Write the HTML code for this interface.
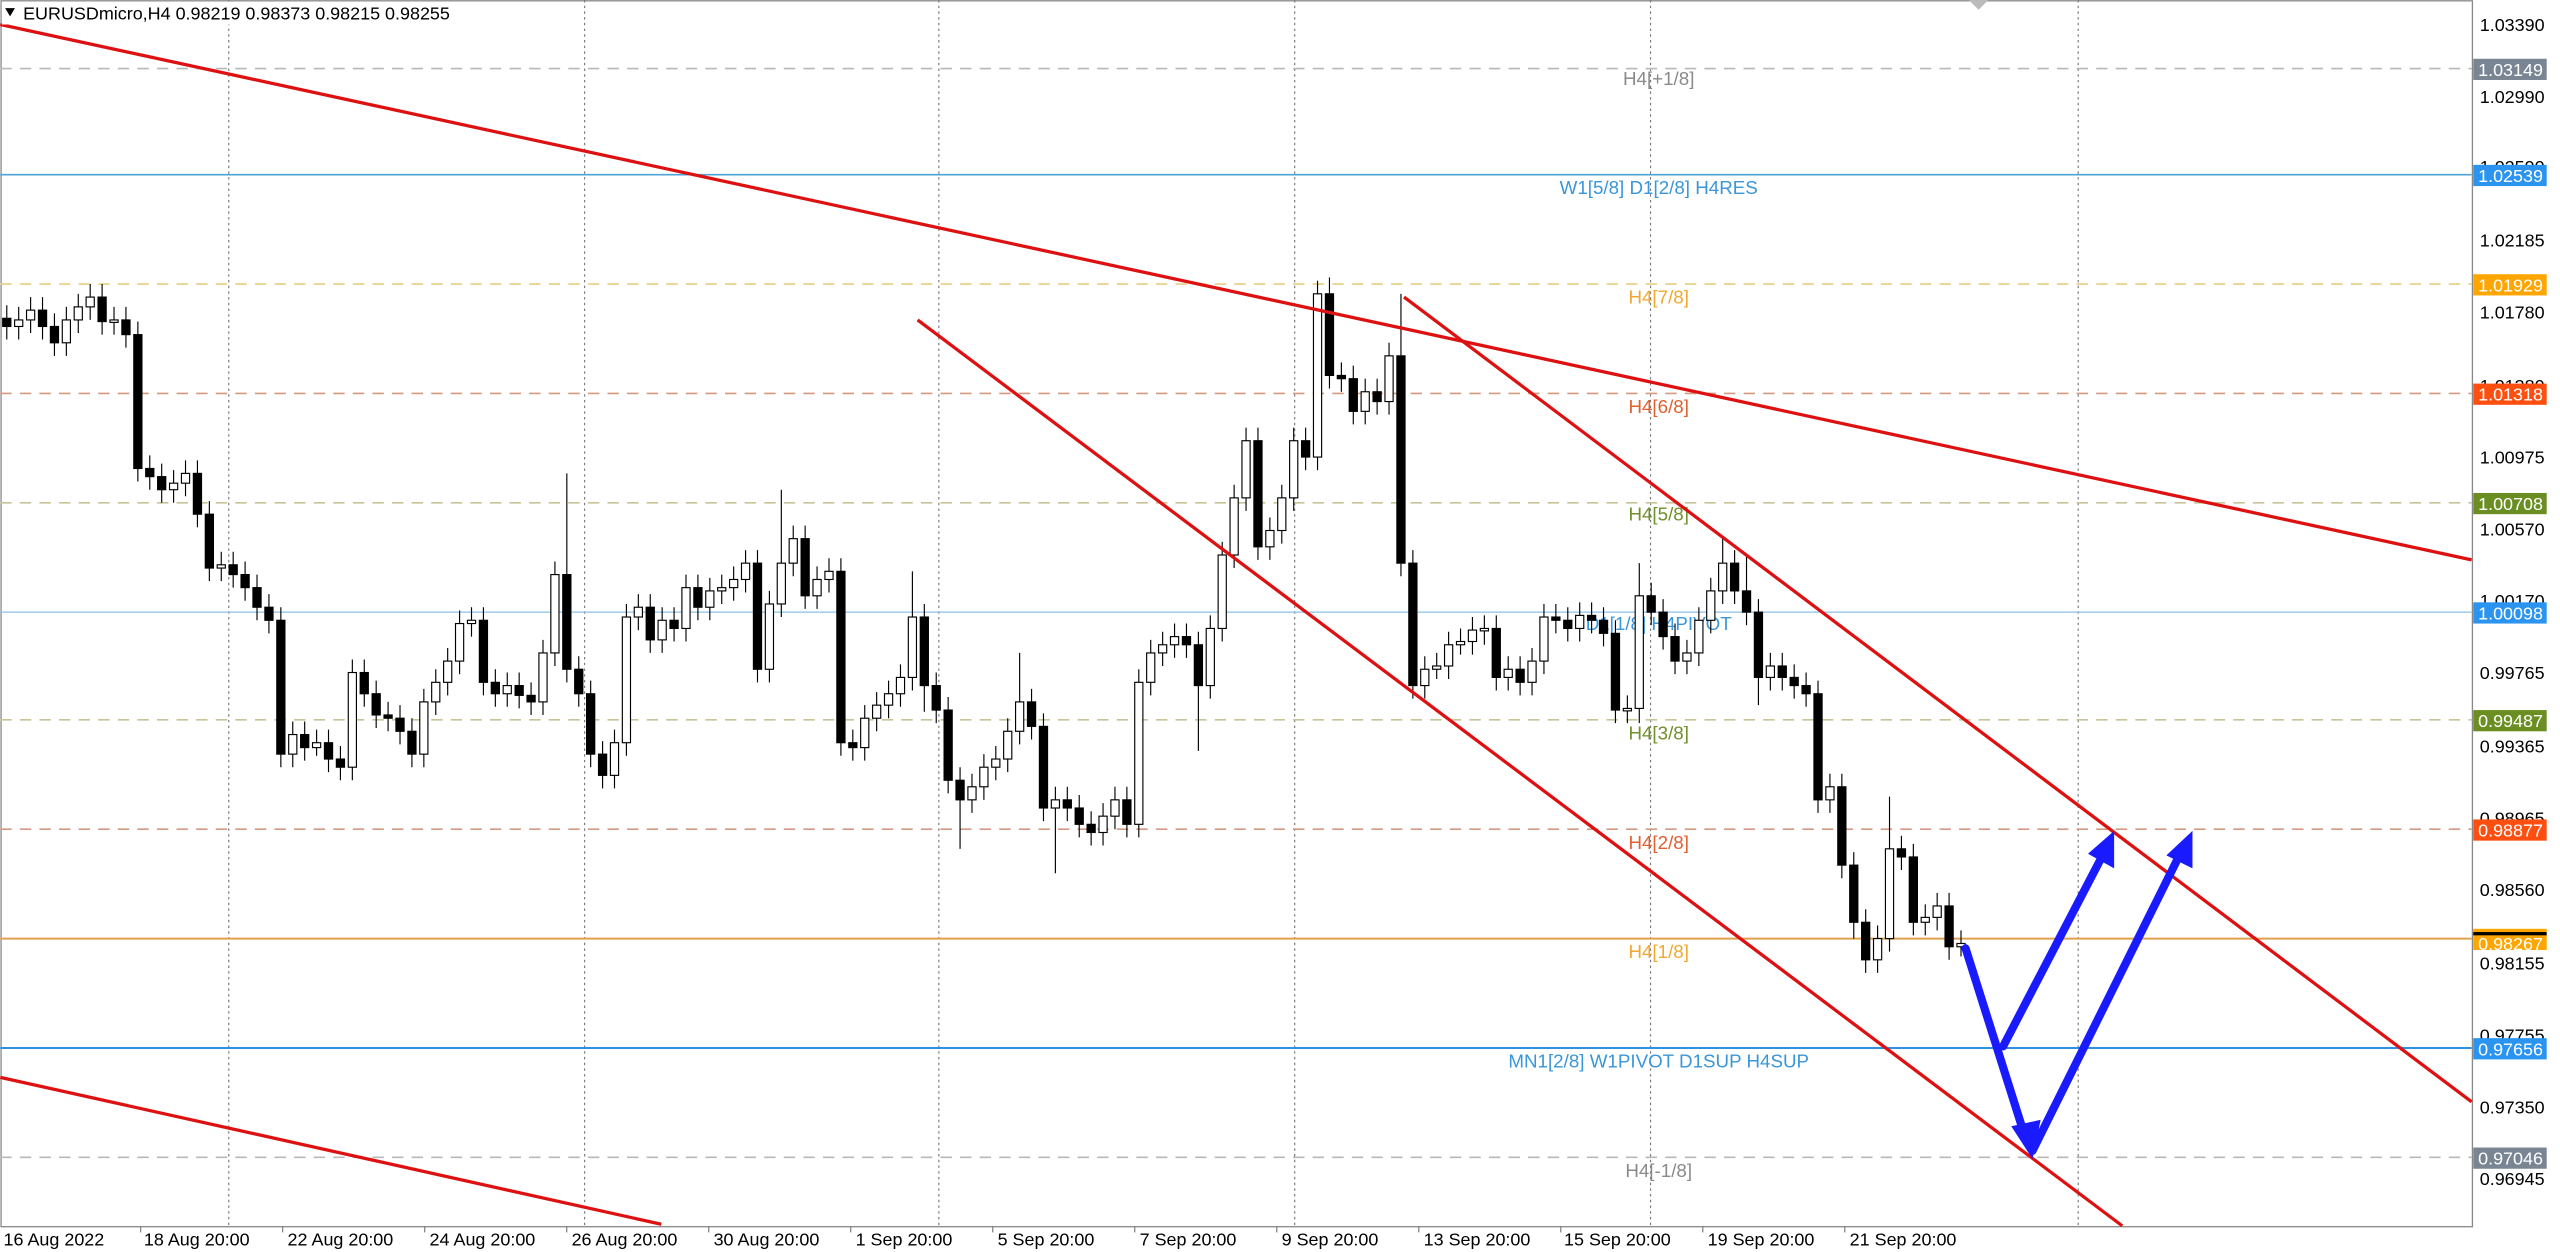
<!DOCTYPE html>
<html><head><meta charset="utf-8"><style>
html,body{margin:0;padding:0;background:#fff;overflow:hidden}
svg{display:block}
text{font-family:"Liberation Sans","DejaVu Sans",sans-serif}
.b{fill:#000;stroke:#000;stroke-width:0.7}
.w{fill:#fff;stroke:#000;stroke-width:0.7}
</style></head><body>
<svg width="2560" height="1252" viewBox="0 0 1568 767" xmlns="http://www.w3.org/2000/svg">
<rect x="0" y="0" width="1568" height="767" fill="#fff"/>
<rect x="0.5" y="0.5" width="1514" height="751" fill="#fff" stroke="#888" stroke-width="0.8"/>
<g stroke="#777" stroke-width="0.7" stroke-dasharray="1.5,2">
<line x1="140" y1="0" x2="140" y2="751"/><line x1="358" y1="0" x2="358" y2="751"/>
<line x1="575" y1="0" x2="575" y2="751"/><line x1="793" y1="0" x2="793" y2="751"/>
<line x1="1011" y1="0" x2="1011" y2="751"/><line x1="1273" y1="0" x2="1273" y2="751"/>
</g>
<g stroke-width="1" stroke-dasharray="7,5">
<line x1="0" y1="42" x2="1514" y2="42" stroke="#b8b8b8"/>
<line x1="0" y1="174" x2="1514" y2="174" stroke="#e6cf80"/>
<line x1="0" y1="241" x2="1514" y2="241" stroke="#d49a80"/>
<line x1="0" y1="308" x2="1514" y2="308" stroke="#c8c498"/>
<line x1="0" y1="441" x2="1514" y2="441" stroke="#c8c498"/>
<line x1="0" y1="508" x2="1514" y2="508" stroke="#d49a80"/>
<line x1="0" y1="709" x2="1514" y2="709" stroke="#b8b8b8"/>
</g>
<line x1="0" y1="575" x2="1514" y2="575" stroke="#e0a050" stroke-width="1.2"/>
<line x1="0" y1="107" x2="1514" y2="107" stroke="#4ea3d8" stroke-width="1"/>
<line x1="0" y1="375" x2="1514" y2="375" stroke="#8cc0e0" stroke-width="0.8"/>
<line x1="0" y1="642" x2="1514" y2="642" stroke="#3090e0" stroke-width="1.2"/>
<g font-size="11.5" text-anchor="middle">
<text x="1016" y="52" fill="#8a8a8a">H4[+1/8]</text>
<text x="1016" y="119" fill="#3a96da">W1[5/8] D1[2/8] H4RES</text>
<text x="1016" y="186" fill="#f0a830">H4[7/8]</text>
<text x="1016" y="253" fill="#e06030">H4[6/8]</text>
<text x="1016" y="319" fill="#70902a">H4[5/8]</text>
<text x="1016" y="386" fill="#3a96da">D1[1/8] H4PIVOT</text>
<text x="1016" y="453" fill="#70902a">H4[3/8]</text>
<text x="1016" y="520" fill="#e06030">H4[2/8]</text>
<text x="1016" y="587" fill="#f0a830">H4[1/8]</text>
<text x="1016" y="654" fill="#3a96da">MN1[2/8] W1PIVOT D1SUP H4SUP</text>
<text x="1016" y="721" fill="#8a8a8a">H4[-1/8]</text>
</g>
<g stroke="#000" stroke-width="0.7">
<path d="M4 187V208M11.3 188V208M18.6 182V204M25.9 182V208M33.2 192V218M40.5 188V218M47.8 180V204M55.1 174V196M62.4 174V205M69.7 188V205M77 188V213M84.3 197V295M91.6 279V300M98.9 284V308M106.2 288V308M113.5 282V304M120.8 282V323M128.1 307V356M135.4 338V356M142.7 338V360M150 344V368M157.3 352V380M164.6 364V388M171.9 372V470M179.2 442V470M186.5 442V466M193.8 447V463M201.1 447V473M208.4 457V478M215.7 404V478M223 404V433M230.3 417V446M237.6 430V448M244.9 432V456M252.2 440V470M259.5 422V470M266.8 410V438M274.1 397V426M281.4 374V413M288.7 372V390M296 372V426M303.3 410V433M310.6 412V433M317.9 412V434M325.2 418V438M332.5 392V438M339.8 344V408M347.1 290V418M354.4 402V433M361.7 417V470M369 454V483M376.3 447V483M383.6 370V463M390.9 364V386M398.2 364V400M405.5 372V400M412.8 372V393M420.1 352V393M427.4 352V380M434.7 354V380M442 352V370M449.3 347V368M456.6 337V363M463.9 337V418M471.2 362V418M478.5 300V378M485.8 322V353M493.1 322V373M500.4 347V373M507.7 342V363M515 342V463M522.3 447V466M529.6 432V466M536.9 424V448M544.2 417V440M551.5 407V433M558.8 350V423M566.1 370V436M573.4 412V443M580.7 427V486M588 470V520M595.3 474V498M602.6 462V490M609.9 457V478M617.2 440V473M624.5 400V456M631.8 422V453M639.1 437V503M646.4 482V535M653.7 482V503M661 487V513M668.3 497V518M675.6 492V518M682.9 482V508M690.2 482V513M697.5 410V513M704.8 392V426M712.1 387V408M719.4 382V403M726.7 382V403M734 387V460M741.3 377V428M748.6 332V393M755.9 297V348M763.2 262V313M770.5 262V343M777.8 317V343M785.1 297V333M792.4 262V313M799.7 262V288M807 172V288M814.3 170V238M821.6 222V240M828.9 224V260M836.2 232V260M843.5 232V254M850.8 210V254M858.1 180V353M865.4 337V428M872.7 402V428M880 400V416M887.3 387V416M894.6 385V401M901.9 378V401M909.2 377V395M916.5 377V423M923.8 402V423M931.1 402V426M938.4 397V426M945.7 370V413M953 370V388M960.3 372V393M967.6 369V393M974.9 369V388M982.2 372V396M989.5 380V443M996.8 426V443M1004.1 345V443M1011.4 357V383M1018.7 367V398M1026 382V413M1033.3 392V413M1040.6 372V408M1047.9 354V388M1055.2 330V370M1062.5 337V370M1069.8 340V383M1077.1 367V432M1084.4 400V423M1091.7 400V423M1099 407V428M1106.3 412V433M1113.6 417V498M1120.9 474V498M1128.2 474V538M1135.5 522V575M1142.8 557V596M1150.1 567V596M1157.4 488V583M1164.7 512V533M1172 517V573M1179.3 554V573M1186.6 547V570M1193.9 547V588M1201.2 570V586"/>
</g>
<g>
<rect class="b" x="1.5" y="195" width="5" height="5"/><rect class="w" x="8.8" y="196" width="5" height="4"/><rect class="w" x="16.1" y="190" width="5" height="6"/><rect class="b" x="23.4" y="190" width="5" height="10"/><rect class="b" x="30.7" y="200" width="5" height="10"/><rect class="w" x="38" y="196" width="5" height="14"/><rect class="w" x="45.3" y="188" width="5" height="8"/><rect class="w" x="52.6" y="182" width="5" height="6"/><rect class="b" x="59.9" y="182" width="5" height="15"/><rect class="w" x="67.2" y="196" width="5" height="1.5"/><rect class="b" x="74.5" y="196" width="5" height="9"/><rect class="b" x="81.8" y="205" width="5" height="82"/><rect class="b" x="89.1" y="287" width="5" height="5"/><rect class="b" x="96.4" y="292" width="5" height="8"/><rect class="w" x="103.7" y="296" width="5" height="4"/><rect class="w" x="111" y="290" width="5" height="6"/><rect class="b" x="118.3" y="290" width="5" height="25"/><rect class="b" x="125.6" y="315" width="5" height="33"/><rect class="w" x="132.9" y="346" width="5" height="2"/><rect class="b" x="140.2" y="346" width="5" height="6"/><rect class="b" x="147.5" y="352" width="5" height="8"/><rect class="b" x="154.8" y="360" width="5" height="12"/><rect class="b" x="162.1" y="372" width="5" height="8"/><rect class="b" x="169.4" y="380" width="5" height="82"/><rect class="w" x="176.7" y="450" width="5" height="12"/><rect class="b" x="184" y="450" width="5" height="8"/><rect class="w" x="191.3" y="455" width="5" height="3"/><rect class="b" x="198.6" y="455" width="5" height="10"/><rect class="b" x="205.9" y="465" width="5" height="5"/><rect class="w" x="213.2" y="412" width="5" height="58"/><rect class="b" x="220.5" y="412" width="5" height="13"/><rect class="b" x="227.8" y="425" width="5" height="13"/><rect class="b" x="235.1" y="438" width="5" height="2"/><rect class="b" x="242.4" y="440" width="5" height="8"/><rect class="b" x="249.7" y="448" width="5" height="14"/><rect class="w" x="257" y="430" width="5" height="32"/><rect class="w" x="264.3" y="418" width="5" height="12"/><rect class="w" x="271.6" y="405" width="5" height="13"/><rect class="w" x="278.9" y="382" width="5" height="23"/><rect class="w" x="286.2" y="380" width="5" height="2"/><rect class="b" x="293.5" y="380" width="5" height="38"/><rect class="b" x="300.8" y="418" width="5" height="7"/><rect class="w" x="308.1" y="420" width="5" height="5"/><rect class="b" x="315.4" y="420" width="5" height="6"/><rect class="b" x="322.7" y="426" width="5" height="4"/><rect class="w" x="330" y="400" width="5" height="30"/><rect class="w" x="337.3" y="352" width="5" height="48"/><rect class="b" x="344.6" y="352" width="5" height="58"/><rect class="b" x="351.9" y="410" width="5" height="15"/><rect class="b" x="359.2" y="425" width="5" height="37"/><rect class="b" x="366.5" y="462" width="5" height="13"/><rect class="w" x="373.8" y="455" width="5" height="20"/><rect class="w" x="381.1" y="378" width="5" height="77"/><rect class="w" x="388.4" y="372" width="5" height="6"/><rect class="b" x="395.7" y="372" width="5" height="20"/><rect class="w" x="403" y="380" width="5" height="12"/><rect class="b" x="410.3" y="380" width="5" height="5"/><rect class="w" x="417.6" y="360" width="5" height="25"/><rect class="b" x="424.9" y="360" width="5" height="12"/><rect class="w" x="432.2" y="362" width="5" height="10"/><rect class="w" x="439.5" y="360" width="5" height="2"/><rect class="w" x="446.8" y="355" width="5" height="5"/><rect class="w" x="454.1" y="345" width="5" height="10"/><rect class="b" x="461.4" y="345" width="5" height="65"/><rect class="w" x="468.7" y="370" width="5" height="40"/><rect class="w" x="476" y="345" width="5" height="25"/><rect class="w" x="483.3" y="330" width="5" height="15"/><rect class="b" x="490.6" y="330" width="5" height="35"/><rect class="w" x="497.9" y="355" width="5" height="10"/><rect class="w" x="505.2" y="350" width="5" height="5"/><rect class="b" x="512.5" y="350" width="5" height="105"/><rect class="b" x="519.8" y="455" width="5" height="3"/><rect class="w" x="527.1" y="440" width="5" height="18"/><rect class="w" x="534.4" y="432" width="5" height="8"/><rect class="w" x="541.7" y="425" width="5" height="7"/><rect class="w" x="549" y="415" width="5" height="10"/><rect class="w" x="556.3" y="378" width="5" height="37"/><rect class="b" x="563.6" y="378" width="5" height="42"/><rect class="b" x="570.9" y="420" width="5" height="15"/><rect class="b" x="578.2" y="435" width="5" height="43"/><rect class="b" x="585.5" y="478" width="5" height="12"/><rect class="w" x="592.8" y="482" width="5" height="8"/><rect class="w" x="600.1" y="470" width="5" height="12"/><rect class="w" x="607.4" y="465" width="5" height="5"/><rect class="w" x="614.7" y="448" width="5" height="17"/><rect class="w" x="622" y="430" width="5" height="18"/><rect class="b" x="629.3" y="430" width="5" height="15"/><rect class="b" x="636.6" y="445" width="5" height="50"/><rect class="w" x="643.9" y="490" width="5" height="5"/><rect class="b" x="651.2" y="490" width="5" height="5"/><rect class="b" x="658.5" y="495" width="5" height="10"/><rect class="b" x="665.8" y="505" width="5" height="5"/><rect class="w" x="673.1" y="500" width="5" height="10"/><rect class="w" x="680.4" y="490" width="5" height="10"/><rect class="b" x="687.7" y="490" width="5" height="15"/><rect class="w" x="695" y="418" width="5" height="87"/><rect class="w" x="702.3" y="400" width="5" height="18"/><rect class="w" x="709.6" y="395" width="5" height="5"/><rect class="w" x="716.9" y="390" width="5" height="5"/><rect class="b" x="724.2" y="390" width="5" height="5"/><rect class="b" x="731.5" y="395" width="5" height="25"/><rect class="w" x="738.8" y="385" width="5" height="35"/><rect class="w" x="746.1" y="340" width="5" height="45"/><rect class="w" x="753.4" y="305" width="5" height="35"/><rect class="w" x="760.7" y="270" width="5" height="35"/><rect class="b" x="768" y="270" width="5" height="65"/><rect class="w" x="775.3" y="325" width="5" height="10"/><rect class="w" x="782.6" y="305" width="5" height="20"/><rect class="w" x="789.9" y="270" width="5" height="35"/><rect class="b" x="797.2" y="270" width="5" height="10"/><rect class="w" x="804.5" y="180" width="5" height="100"/><rect class="b" x="811.8" y="180" width="5" height="50"/><rect class="b" x="819.1" y="230" width="5" height="2"/><rect class="b" x="826.4" y="232" width="5" height="20"/><rect class="w" x="833.7" y="240" width="5" height="12"/><rect class="b" x="841" y="240" width="5" height="6"/><rect class="w" x="848.3" y="218" width="5" height="28"/><rect class="b" x="855.6" y="218" width="5" height="127"/><rect class="b" x="862.9" y="345" width="5" height="75"/><rect class="w" x="870.2" y="410" width="5" height="10"/><rect class="w" x="877.5" y="408" width="5" height="2"/><rect class="w" x="884.8" y="395" width="5" height="13"/><rect class="w" x="892.1" y="393" width="5" height="2"/><rect class="w" x="899.4" y="386" width="5" height="7"/><rect class="w" x="906.7" y="385" width="5" height="1.5"/><rect class="b" x="914" y="385" width="5" height="30"/><rect class="w" x="921.3" y="410" width="5" height="5"/><rect class="b" x="928.6" y="410" width="5" height="8"/><rect class="w" x="935.9" y="405" width="5" height="13"/><rect class="w" x="943.2" y="378" width="5" height="27"/><rect class="b" x="950.5" y="378" width="5" height="2"/><rect class="b" x="957.8" y="380" width="5" height="5"/><rect class="w" x="965.1" y="377" width="5" height="8"/><rect class="b" x="972.4" y="377" width="5" height="3"/><rect class="b" x="979.7" y="380" width="5" height="8"/><rect class="b" x="987" y="388" width="5" height="47"/><rect class="w" x="994.3" y="434" width="5" height="1.5"/><rect class="w" x="1001.6" y="365" width="5" height="69"/><rect class="b" x="1008.9" y="365" width="5" height="10"/><rect class="b" x="1016.2" y="375" width="5" height="15"/><rect class="b" x="1023.5" y="390" width="5" height="15"/><rect class="w" x="1030.8" y="400" width="5" height="5"/><rect class="w" x="1038.1" y="380" width="5" height="20"/><rect class="w" x="1045.4" y="362" width="5" height="18"/><rect class="w" x="1052.7" y="345" width="5" height="17"/><rect class="b" x="1060" y="345" width="5" height="17"/><rect class="b" x="1067.3" y="362" width="5" height="13"/><rect class="b" x="1074.6" y="375" width="5" height="40"/><rect class="w" x="1081.9" y="408" width="5" height="7"/><rect class="b" x="1089.2" y="408" width="5" height="7"/><rect class="b" x="1096.5" y="415" width="5" height="5"/><rect class="b" x="1103.8" y="420" width="5" height="5"/><rect class="b" x="1111.1" y="425" width="5" height="65"/><rect class="w" x="1118.4" y="482" width="5" height="8"/><rect class="b" x="1125.7" y="482" width="5" height="48"/><rect class="b" x="1133" y="530" width="5" height="35"/><rect class="b" x="1140.3" y="565" width="5" height="23"/><rect class="w" x="1147.6" y="575" width="5" height="13"/><rect class="w" x="1154.9" y="520" width="5" height="55"/><rect class="b" x="1162.2" y="520" width="5" height="5"/><rect class="b" x="1169.5" y="525" width="5" height="40"/><rect class="w" x="1176.8" y="562" width="5" height="3"/><rect class="w" x="1184.1" y="555" width="5" height="7"/><rect class="b" x="1191.4" y="555" width="5" height="25"/><rect class="w" x="1198.7" y="578" width="5" height="2"/>
</g>
<g stroke="#dd1111" stroke-width="2" fill="none">
<line x1="0" y1="15" x2="1514" y2="343"/>
<line x1="0" y1="660" x2="405" y2="750"/>
<line x1="562" y1="196" x2="1300" y2="751"/>
<line x1="860" y1="182" x2="1514" y2="675"/>
</g>
<g stroke="#1a1aff" stroke-width="5" fill="none" stroke-linecap="round" stroke-linejoin="round">
<polyline points="1204,581 1240,695"/>
<polyline points="1245,705 1336,522"/>
<polyline points="1227,641 1289,522"/>
</g>
<g fill="#1a1aff">
<polygon points="1245,710 1232,690 1250,686"/>
<polygon points="1295,509 1295,532 1279,523"/>
<polygon points="1343,509 1343,532 1327,524"/>
</g>
<polygon points="1206,0 1218,0 1212,6" fill="#bbb"/>
<rect x="1" y="1" width="285" height="14" fill="#fff"/>
<text x="14" y="12" font-size="11" fill="#000">EURUSDmicro,H4  0.98219 0.98373 0.98215 0.98255</text>
<polygon points="3,5 9,5 6,10" fill="#000"/>
<g font-size="11" fill="#000">
<text x="1519" y="19">1.03390</text><text x="1519" y="63">1.02990</text>
<text x="1519" y="106">1.02590</text><text x="1519" y="151">1.02185</text>
<text x="1519" y="195">1.01780</text><text x="1519" y="240">1.01380</text>
<text x="1519" y="284">1.00975</text><text x="1519" y="328">1.00570</text>
<text x="1519" y="372">1.00170</text><text x="1519" y="416">0.99765</text>
<text x="1519" y="461">0.99365</text><text x="1519" y="505">0.98965</text>
<text x="1519" y="549">0.98560</text><text x="1519" y="594">0.98155</text>
<text x="1519" y="638">0.97755</text><text x="1519" y="682">0.97350</text>
<text x="1519" y="726">0.96945</text>
</g>
<g font-size="11" fill="#fff">
<rect x="1515" y="36" width="45" height="13" fill="#7a8594"/><text x="1518" y="46.5">1.03149</text>
<rect x="1515" y="101" width="45" height="13" fill="#2a94f0"/><text x="1518" y="111.5">1.02539</text>
<rect x="1515" y="168" width="45" height="13" fill="#ffa500"/><text x="1518" y="178.5">1.01929</text>
<rect x="1515" y="235" width="45" height="13" fill="#ff4f10"/><text x="1518" y="245.5">1.01318</text>
<rect x="1515" y="302" width="45" height="13" fill="#6b8e23"/><text x="1518" y="312.5">1.00708</text>
<rect x="1515" y="369" width="45" height="13" fill="#2a94f0"/><text x="1518" y="379.5">1.00098</text>
<rect x="1515" y="435" width="45" height="13" fill="#6b8e23"/><text x="1518" y="445.5">0.99487</text>
<rect x="1515" y="502" width="45" height="13" fill="#ff4f10"/><text x="1518" y="512.5">0.98877</text>
<rect x="1515" y="569" width="45" height="13" fill="#ffa500"/><rect x="1515" y="571" width="45" height="2" fill="#000"/><text x="1518" y="582">0.98267</text>
<rect x="1515" y="636" width="45" height="13" fill="#2a94f0"/><text x="1518" y="646.5">0.97656</text>
<rect x="1515" y="703" width="45" height="13" fill="#7a8594"/><text x="1518" y="713.5">0.97046</text>
</g>
<g font-size="11" fill="#000">
<text x="2" y="763">16 Aug 2022</text><text x="88" y="763">18 Aug 20:00</text>
<text x="176" y="763">22 Aug 20:00</text><text x="263" y="763">24 Aug 20:00</text>
<text x="350" y="763">26 Aug 20:00</text><text x="437" y="763">30 Aug 20:00</text>
<text x="524" y="763">1 Sep 20:00</text><text x="611" y="763">5 Sep 20:00</text>
<text x="698" y="763">7 Sep 20:00</text><text x="785" y="763">9 Sep 20:00</text>
<text x="872" y="763">13 Sep 20:00</text><text x="958" y="763">15 Sep 20:00</text>
<text x="1046" y="763">19 Sep 20:00</text><text x="1133" y="763">21 Sep 20:00</text>
</g>
<g stroke="#888" stroke-width="0.8">
<line x1="86" y1="751" x2="86" y2="755"/><line x1="173" y1="751" x2="173" y2="755"/>
<line x1="260" y1="751" x2="260" y2="755"/><line x1="347" y1="751" x2="347" y2="755"/>
<line x1="434" y1="751" x2="434" y2="755"/><line x1="521" y1="751" x2="521" y2="755"/>
<line x1="608" y1="751" x2="608" y2="755"/><line x1="695" y1="751" x2="695" y2="755"/>
<line x1="782" y1="751" x2="782" y2="755"/><line x1="869" y1="751" x2="869" y2="755"/>
<line x1="956" y1="751" x2="956" y2="755"/><line x1="1043" y1="751" x2="1043" y2="755"/>
<line x1="1130" y1="751" x2="1130" y2="755"/>
</g>
</svg>
</body></html>
